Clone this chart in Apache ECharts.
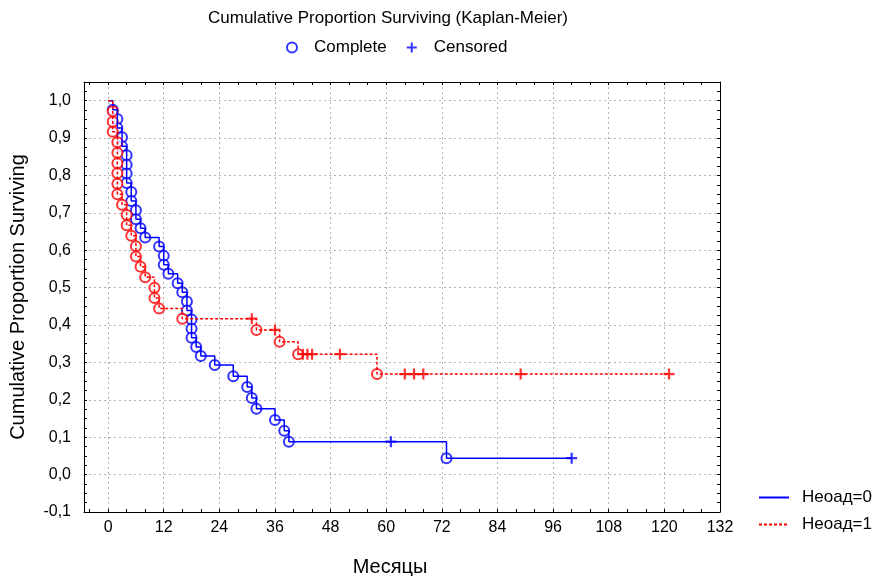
<!DOCTYPE html>
<html>
<head>
<meta charset="utf-8">
<title>Kaplan-Meier</title>
<script src="https://cdn.jsdelivr.net/npm/echarts@6/dist/echarts.min.js"></script>
<style>
  html, body { margin: 0; padding: 0; background: #fff; }
  #chart { width: 875px; height: 576px; }
</style>
</head>
<body>
<div id="chart"></div>
<script>
// Неоад=0 : deaths (Complete) and censored
var blueEventT = [1, 2, 2, 3, 3, 4, 4, 4, 4, 5, 5, 6, 6, 7, 8, 11, 12, 12, 13, 15, 16, 17, 17, 18, 18, 18, 19, 20, 23, 27, 30, 31, 32, 36, 38, 39, 73];
var blueEventS = [0.976, 0.951, 0.927, 0.902, 0.878, 0.854, 0.829, 0.805, 0.780, 0.756, 0.732, 0.707, 0.683, 0.659, 0.634, 0.610, 0.585, 0.561, 0.537, 0.512, 0.488, 0.463, 0.439, 0.415, 0.390, 0.366, 0.341, 0.317, 0.293, 0.263, 0.234, 0.205, 0.176, 0.146, 0.117, 0.088, 0.044];
var blueCensT = [61, 100];
var blueCensS = [0.088, 0.044];

// Неоад=1
var redEventT = [1, 1, 1, 2, 2, 2, 2, 2, 2, 3, 4, 4, 5, 6, 6, 7, 8, 10, 10, 11, 16, 32, 37, 41, 58];
var redEventS = [0.972, 0.944, 0.917, 0.889, 0.861, 0.833, 0.806, 0.778, 0.750, 0.722, 0.694, 0.667, 0.639, 0.611, 0.583, 0.556, 0.528, 0.500, 0.472, 0.444, 0.417, 0.387, 0.355, 0.322, 0.269];
var redCensT = [31, 36, 42, 43, 44, 50, 64, 66, 68, 89, 121];
var redCensS = [0.417, 0.387, 0.322, 0.322, 0.322, 0.322, 0.269, 0.269, 0.269, 0.269, 0.269];

var xTicks = [0, 12, 24, 36, 48, 60, 72, 84, 96, 108, 120, 132];
var xMinorTicks = [-4, 0, 4, 8, 12, 16, 20, 24, 28, 32, 36, 40, 44, 48, 52, 56, 60, 64, 68, 72, 76, 80, 84, 88, 92, 96, 100, 104, 108, 112, 116, 120, 124, 128, 132];

var FONT = '"Liberation Sans", Arial, sans-serif';
var BLUE = '#0000ff';
var RED = '#ff0000';
var PLUS = 'path://M4,0H6V10H4ZM0,4H10V6H0Z';

function zip(t, s) {
  return t.map(function (v, i) { return [v, s[i]]; });
}
// step line through every observation, starting at (0, 1)
function curve(et, es, ct, cs) {
  var pts = zip(et, es).concat(zip(ct, cs));
  pts.sort(function (a, b) { return a[0] - b[0] || b[1] - a[1]; });
  return [[0, 1]].concat(pts);
}

var chart = echarts.init(document.getElementById('chart'));

var frameX = function (pos) {
  return {
    type: 'value', min: -5.2, max: 132, position: pos,
    axisLine: { show: true, onZero: false, lineStyle: { color: '#000', width: 1 } },
    axisTick: { show: true, inside: true, length: 3, customValues: xMinorTicks, lineStyle: { color: '#000' } },
    axisLabel: { show: false },
    splitLine: { show: false }
  };
};
var frameY = function (pos) {
  return {
    type: 'value', min: -0.1, max: 1.05, interval: 0.1, position: pos,
    axisLine: { show: true, onZero: false, lineStyle: { color: '#000', width: 1 } },
    axisTick: { show: true, inside: true, length: 3, lineStyle: { color: '#000' } },
    minorTick: { show: true, splitNumber: 4, length: 3, lineStyle: { color: '#000' } },
    axisLabel: { show: false },
    splitLine: { show: false }
  };
};

var xBottom = frameX('bottom');
xBottom.axisLabel = { show: true, customValues: xTicks, color: '#000', fontSize: 16, fontFamily: FONT, margin: 8 };
xBottom.name = 'Месяцы';
xBottom.nameLocation = 'middle';
xBottom.nameGap = 45;
xBottom.nameTextStyle = { color: '#000', fontSize: 20, fontFamily: FONT, padding: [0, 24, 0, 0] };

var xGrid = {
  type: 'value', min: -5.2, max: 132, position: 'bottom',
  axisLine: { show: false, onZero: false },
  axisTick: { show: false, customValues: xTicks },
  axisLabel: { show: false },
  splitLine: { show: true, lineStyle: { color: '#b4b4b4', width: 1, type: [2, 3] } }
};

var yLeft = frameY('left');
yLeft.axisLabel = {
  show: true, showMaxLabel: false, color: '#000', fontSize: 16, fontFamily: FONT, margin: 13,
  formatter: function (v) { return v.toFixed(1).replace('.', ','); }
};
yLeft.splitLine = { show: true, lineStyle: { color: '#b4b4b4', width: 1, type: [2, 3] } };
yLeft.name = 'Cumulative Proportion Surviving';
yLeft.nameLocation = 'middle';
yLeft.nameGap = 56;
yLeft.nameTextStyle = { color: '#000', fontSize: 20, fontFamily: FONT };

chart.setOption({
  animation: false,
  backgroundColor: '#fff',
  title: {
    text: 'Cumulative Proportion Surviving (Kaplan-Meier)',
    left: 203, top: 5,
    textStyle: { color: '#000', fontSize: 17, fontWeight: 'normal', fontFamily: FONT }
  },
  legend: [{
    data: ['Complete', 'Censored'],
    left: 281, top: 34,
    itemWidth: 10, itemHeight: 10, itemGap: 20,
    textStyle: { color: '#000', fontSize: 17, fontFamily: FONT, padding: [0, 0, 0, 12] }
  }, {
    data: ['Неоад=0', 'Неоад=1'],
    orient: 'vertical',
    left: 753, top: 484,
    itemWidth: 30, itemHeight: 16, itemGap: 10,
    itemStyle: { opacity: 0 },
    textStyle: { color: '#000', fontSize: 17, fontFamily: FONT, padding: [0, 0, 0, 8] }
  }],
  grid: { left: 84, right: 155, top: 82, bottom: 64, outerBoundsMode: 'none' },
  xAxis: [xBottom, frameX('top'), xGrid],
  yAxis: [yLeft, frameY('right')],
  series: [{
    name: 'Неоад=0', type: 'line', step: 'end', symbol: 'none',
    lineStyle: { color: BLUE, width: 1.5 }, itemStyle: { color: BLUE },
    data: curve(blueEventT, blueEventS, blueCensT, blueCensS)
  }, {
    name: 'Неоад=1', type: 'line', step: 'end', symbol: 'none',
    lineStyle: { color: RED, width: 1.5, type: [3, 2] }, itemStyle: { color: RED },
    data: curve(redEventT, redEventS, redCensT, redCensS)
  }, {
    name: 'Complete', type: 'scatter', symbol: 'emptyCircle', symbolSize: 10,
    itemStyle: { color: BLUE, borderColor: BLUE, borderWidth: 1.5 },
    data: zip(blueEventT, blueEventS)
  }, {
    name: 'Censored', type: 'scatter', symbol: PLUS, symbolSize: 11,
    itemStyle: { color: BLUE },
    data: zip(blueCensT, blueCensS)
  }, {
    name: 'Complete (1)', type: 'scatter', symbol: 'emptyCircle', symbolSize: 10,
    itemStyle: { color: RED, borderColor: RED, borderWidth: 1.5 },
    data: zip(redEventT, redEventS)
  }, {
    name: 'Censored (1)', type: 'scatter', symbol: PLUS, symbolSize: 11,
    itemStyle: { color: RED },
    data: zip(redCensT, redCensS)
  }]
});
</script>
</body>
</html>
